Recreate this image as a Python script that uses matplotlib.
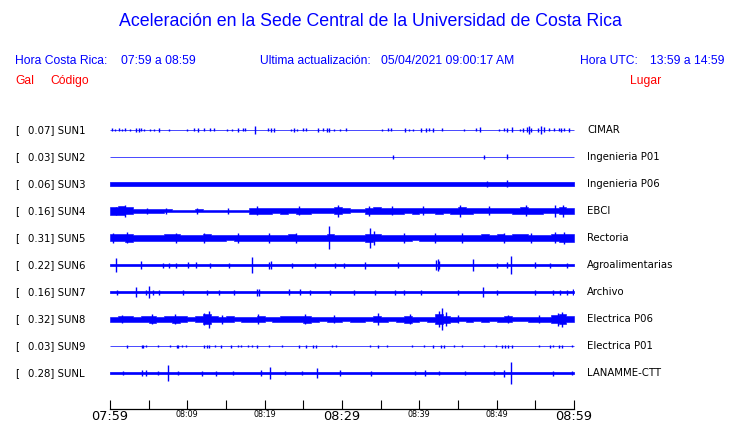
import numpy as np
import matplotlib.pyplot as plt

W, H = 740, 423
ROW = 27.0          # pixels between two traces
BLUE = '#0000ff'
RED = '#ff0000'

# stations
codes = ['SUN1', 'SUN2', 'SUN3', 'SUN4', 'SUN5', 'SUN6', 'SUN7', 'SUN8', 'SUN9', 'SUNL']
places = ['CIMAR', 'Ingenieria P01', 'Ingenieria P06', 'EBCI', 'Rectoria',
          'Agroalimentarias', 'Archivo', 'Electrica P06', 'Electrica P01', 'LANAMME-CTT']
peak_gal = [0.07, 0.03, 0.06, 0.16, 0.31, 0.22, 0.16, 0.32, 0.03, 0.28]

# time axis (minutes after 07:59)
tick_minutes = list(range(0, 61, 5))
label_minutes = [0, 10, 20, 30, 40, 50, 60]
label_text = ['07:59', '08:09', '08:19', '08:29', '08:39', '08:49', '08:59']
big_labels = ['07:59', '08:29', '08:59']

# quiet level of the traces (half height, px)
base_level = {'SUN1': 0.4, 'SUN2': 0.4, 'SUN3': 1.8, 'SUN6': 1.3,
              'SUN7': 1.4, 'SUN9': 0.4, 'SUNL': 1.3}

# noisy traces: envelope per minute (half height, px)
env_sun4 = [4, 4.5, 3.5, 2, 2, 2, 2, 1.5, 1.3, 1.3, 1.3, 1.5, 1.3, 1.3, 1.3, 1.3, 1.3, 1.3, 3, 3,
            3, 2.5, 3, 2.5, 3, 3, 2.5, 2.5, 2.5, 3.5, 2.5, 1.5, 1.5, 3, 3.5, 3, 3, 3, 2.5, 3,
            2.5, 2.5, 3, 2.5, 3, 3.5, 3, 2.5, 2.5, 2.5, 2.5, 2.5, 3, 3.5, 3, 3, 2.5, 2.5, 3.5, 3]
env_sun5 = [3.5, 3.5, 4, 3, 3, 3, 3, 3.5, 3.5, 3, 3, 3, 3.5, 3, 3, 2.5, 3, 3, 3, 3,
            3, 3, 3, 3.5, 3, 3, 3, 3, 3.5, 3, 3, 3, 3, 4, 3.5, 3, 3, 3, 3, 2.5,
            3, 3, 3, 3, 3, 3, 3, 3, 3.5, 3, 3.5, 3, 3.5, 3.5, 3, 3, 3, 3.5, 4, 4]
env_sun8 = [2.5, 3, 3, 2.5, 3, 3.5, 2.5, 3, 3.5, 3, 2, 3, 4.5, 3, 2.5, 3, 2, 2.5, 2.5, 3,
            2, 2.5, 3, 3, 3, 3.5, 2.5, 2, 2.5, 2.5, 2, 2.5, 2.5, 2, 3, 2.5, 2, 2.5, 3.5, 2.5,
            2, 2.5, 4.5, 3.5, 2.5, 2, 2.5, 2, 2.5, 2, 2.5, 3, 2, 2, 2.5, 2.5, 2.5, 4, 4.5, 3]
envelopes = {'SUN4': env_sun4, 'SUN5': env_sun5, 'SUN8': env_sun8}

# bursts: (minute, half height px)
spikes = {
  'SUN1': [(0.3, 1.5), (0.7, 1.2), (1.2, 1.5), (1.6, 1.2), (2.0, 1.5), (2.6, 1.2), (3.3, 2), (3.7, 2),
           (4.0, 1.5), (4.4, 1.2), (5.2, 1.0), (5.7, 1.2), (6.4, 2), (7.6, 1.2), (9.9, 1.2), (10.8, 1.5),
           (11.4, 2), (12.1, 1.5), (12.9, 1.5), (13.4, 1.5), (15.1, 1.2), (15.8, 1.2), (16.6, 2), (17.2, 1.5),
           (17.4, 1.5), (18.75, 4), (20.4, 1.5), (20.8, 2), (21.2, 2), (23.4, 1.2), (23.8, 2),
           (24.2, 1.2), (25.0, 1.5), (25.3, 1.5), (26.9, 2), (27.6, 1.5), (28.1, 2), (28.3, 2), (29.0, 1.2),
           (29.7, 1.2), (30.5, 1.5), (35.2, 1.2), (35.9, 1.5), (36.3, 1.5), (38.1, 2), (38.7, 1.2),
           (39.2, 1.2), (40.2, 2), (40.9, 2), (41.3, 1.5), (41.8, 2), (42.9, 1.5), (45.8, 1.0),
           (47.3, 1.5), (47.8, 2.5), (50.3, 1.2), (50.9, 1.5), (51.4, 2), (52.0, 2.5), (53.0, 1.2), (53.4, 2),
           (53.9, 2.5), (54.2, 4), (54.5, 2), (55.4, 2), (55.7, 4), (56.1, 2.5), (56.8, 1.5),
           (57.4, 1.5), (58.1, 1.5), (58.3, 2), (58.7, 1.5), (59.4, 2)],
  'SUN2': [(36.6, 2), (48.4, 2), (51.3, 2.5)],
  'SUN3': [(48.7, 3), (51.3, 3.5)],
  'SUN4': [(0.8, 4), (2.0, 6), (4.8, 3), (7.3, 3), (11.2, 3), (15.3, 3), (19.0, 4.5), (24.5, 4.5),
           (29.5, 6), (33.5, 5), (36.5, 4.5), (40.5, 4.5), (45.3, 6), (49.0, 4.5), (53.8, 5.5),
           (57.5, 6), (58.6, 6)],
  'SUN5': [(0.4, 5), (2.2, 5.5), (8.5, 4.5), (12.2, 5), (16.5, 4.5), (20.5, 5), (24.0, 4.5), (28.3, 11.5),
           (33.6, 10), (34.2, 7), (38.0, 4.5), (42.0, 4.5), (45.5, 5), (51.0, 5), (54.5, 4.5),
           (57.5, 5.5), (58.75, 6)],
  'SUN6': [(0.73, 7), (3.97, 4), (6.9, 2.5), (7.6, 2.5), (8.5, 2.5), (10.1, 3), (11.1, 3), (12.9, 2.5),
           (15.4, 2.5), (18.3, 8), (20.6, 3.5), (20.8, 4), (23.5, 2.5), (26.5, 2.5), (29.1, 2.5),
           (30.3, 2.5), (33.0, 3.5), (37.3, 3), (42.2, 5), (42.4, 6), (42.6, 4), (46.9, 6), (50.1, 2.5),
           (51.3, 3), (51.8, 9), (55.0, 3), (56.9, 2.5), (59.1, 2.5)],
  'SUN7': [(0.9, 2.5), (3.4, 5), (4.6, 2.5), (5.1, 6), (5.6, 2.5), (6.3, 2.5), (9.5, 2.5), (12.6, 2.5),
           (14.1, 2.5), (16.0, 2.5), (19.0, 3.5), (19.3, 3.5), (23.1, 3), (24.6, 3), (25.9, 2.5),
           (28.4, 2.5), (31.5, 2.5), (34.3, 2.5), (36.9, 2.5), (38.0, 2.5), (40.2, 2.5), (45.0, 2.5),
           (48.2, 5), (50.0, 2.5), (55.0, 2.5), (57.3, 2.5), (58.2, 2.5), (59.1, 2.5), (59.9, 3)],
  'SUN8': [(1.5, 4), (5.4, 5), (8.4, 5), (12.2, 6), (12.8, 8.5), (14.5, 4.5), (19.1, 5), (25.2, 5),
           (29.0, 4), (34.7, 6), (38.8, 5), (42.6, 8), (42.9, 11), (43.4, 7), (45.0, 4), (51.5, 4),
           (55.5, 4), (57.9, 6.5), (58.4, 7.5)],
  'SUN9': [(2.2, 1.5), (4.1, 1.5), (4.3, 1.5), (4.7, 1.2), (6.25, 1.2), (7.8, 1.2), (8.6, 1.5), (8.8, 1.5),
           (9.3, 1.2), (9.8, 1.2), (12.2, 1.5), (12.5, 1.5), (12.8, 1.5), (13.6, 1.2), (14.4, 1.5),
           (15.6, 1.5), (16.6, 1.2), (17.0, 1.2), (17.8, 1.2), (18.4, 1.2), (19.0, 1.5), (20.6, 1.2),
           (22.3, 1.2), (24.4, 1.5), (25.3, 1.5), (26.3, 1.5), (26.6, 1.5), (28.7, 1.2), (29.2, 1.2),
           (33.6, 1.2), (34.7, 1.5), (35.8, 1.2), (39.1, 1.2), (40.6, 1.2), (41.8, 1.5), (42.8, 1.5),
           (43.2, 1.5), (44.5, 1.2), (45.5, 1.2), (48.4, 1.2), (49.9, 1.2), (50.7, 1.5), (51.1, 1.5),
           (51.5, 1.5), (52.0, 1.5), (55.5, 1.2), (56.9, 1.5), (57.3, 1.2), (58.1, 1.5), (58.5, 1.5),
           (59.7, 1.2)],
  'SUNL': [(1.7, 2), (4.1, 3), (4.7, 3), (6.25, 2), (7.5, 8), (8.8, 2), (11.85, 2.5), (13.7, 2.5),
           (15.9, 2), (19.5, 3), (20.7, 6), (22.6, 2), (24.8, 2), (26.8, 5), (29.8, 3), (33.8, 2.5),
           (39.4, 2), (40.7, 3), (42.5, 2), (45.9, 2), (49.6, 2), (50.9, 3.5), (51.9, 11), (57.3, 2.5),
           (59.7, 2)],
}

fig = plt.figure(figsize=(W / 100, H / 100), dpi=100)

# traces
ax = fig.add_axes([110 / W, 1 - 386.5 / H, 464 / W, 270 / H])
ax.set_xlim(0, 60)
ax.set_ylim(len(codes) - 0.5, -0.5)
ax.axis('off')

for i, code in enumerate(codes):
  if code in envelopes:
    env = np.array(envelopes[code], dtype=float)
    env = np.append(env, env[-1]) / ROW
    edges = np.arange(len(env))
    ax.fill_between(edges, i - env, i + env, step='post', color=BLUE, lw=0.4)
  else:
    b = base_level[code] / ROW
    ax.fill_between([0, 60], i - b, i + b, color=BLUE, lw=0.5)
  t = np.array([s[0] for s in spikes[code]])
  a = np.array([s[1] for s in spikes[code]]) / ROW
  ax.vlines(t, i - a, i + a, color=BLUE, lw=1.0)

  y = 1 - (130 + ROW * i) / H
  fig.text(15 / W, y, '[', fontsize=7.3, va='center', ha='left')
  fig.text(28 / W, y, '%.2f] %s' % (peak_gal[i], code), fontsize=7.3, va='center', ha='left')
  fig.text(587 / W, y, places[i], fontsize=7.3, va='center', ha='left')

# time axis
tax = fig.add_axes([110 / W, 1 - 409 / H, 464 / W, 8 / H])
tax.set_xlim(0, 60)
tax.set_ylim(0, 1)
for s in ['left', 'right', 'top']:
  tax.spines[s].set_visible(False)
tax.spines['bottom'].set_linewidth(0.9)
tax.set_yticks([])
tax.set_xticks(tick_minutes, minor=True)
tax.set_xticks(label_minutes, label_text)
tax.tick_params(axis='x', which='both', direction='in', length=6.2, width=0.8, pad=0.8)
for lab in tax.get_xticklabels():
  lab.set_fontsize(9.3 if lab.get_text() in big_labels else 5.8)

# header
sans = 'Liberation Sans'
fs = 8.7
fig.text(0.5, 1 - 22 / H, 'Aceleración en la Sede Central de la Universidad de Costa Rica',
         fontsize=12.8, color=BLUE, family=sans, ha='center', va='center')
y2 = 1 - 61 / H
fig.text(15 / W, y2, 'Hora Costa Rica:', fontsize=fs, color=BLUE, family=sans, va='center')
fig.text(121 / W, y2, '07:59 a 08:59', fontsize=fs, color=BLUE, family=sans, va='center')
fig.text(260 / W, y2, 'Ultima actualización:', fontsize=fs, color=BLUE, family=sans, va='center')
fig.text(381 / W, y2, '05/04/2021 09:00:17 AM', fontsize=fs, color=BLUE, family=sans, va='center')
fig.text(580 / W, y2, 'Hora UTC:', fontsize=fs, color=BLUE, family=sans, va='center')
fig.text(725 / W, y2, '13:59 a 14:59', fontsize=fs, color=BLUE, family=sans, va='center', ha='right')
y3 = 1 - 81 / H
fig.text(15 / W, y3, 'Gal', fontsize=fs, color=RED, family=sans, va='center')
fig.text(50 / W, y3, 'Código', fontsize=fs, color=RED, family=sans, va='center')
fig.text(630 / W, y3, 'Lugar', fontsize=fs, color=RED, family=sans, va='center')

fig.savefig('out.png', dpi=100)
